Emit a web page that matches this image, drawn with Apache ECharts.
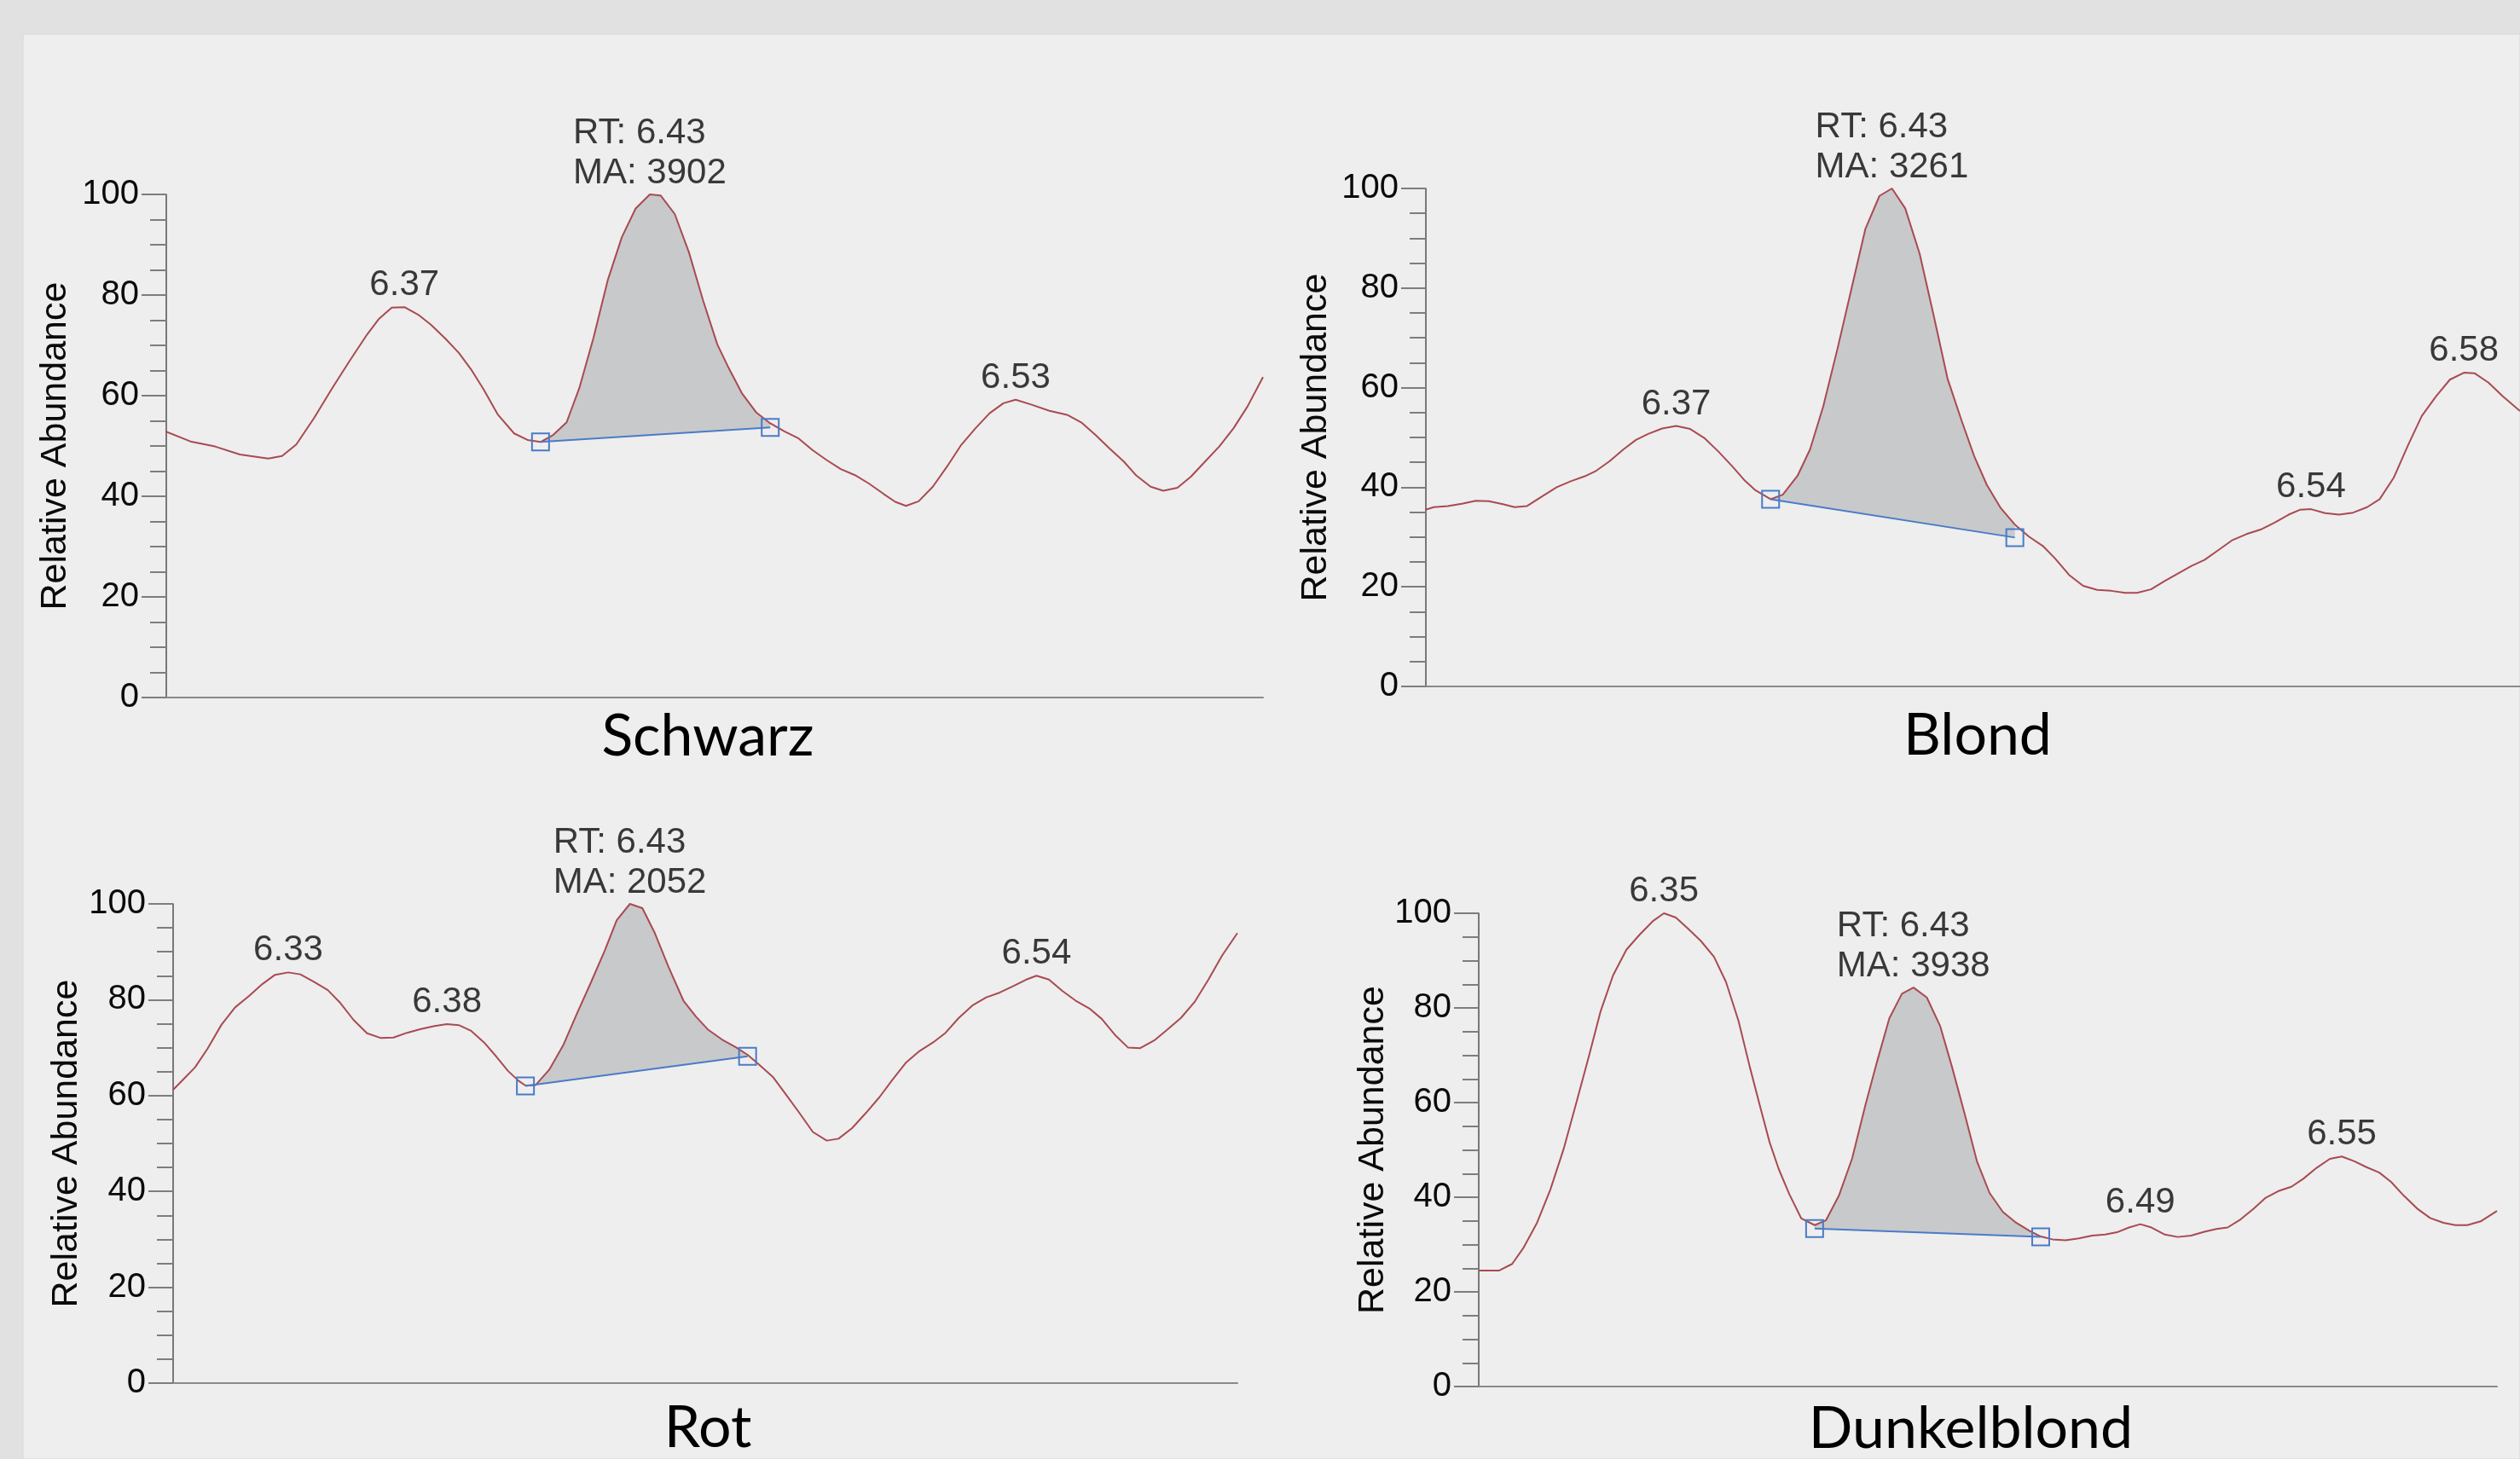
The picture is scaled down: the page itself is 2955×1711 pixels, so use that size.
<!DOCTYPE html>
<html>
<head>
<meta charset="utf-8">
<script src="https://cdn.jsdelivr.net/npm/echarts@6/dist/echarts.min.js"></script>
<style>
  html, body { margin: 0; padding: 0; background: #e1e1e1; }
  #chart { width: 2955px; height: 1711px; }
</style>
</head>
<body>
<div id="chart"></div>
<script>
// Extracted ion chromatograms of four hair samples (retention time in min, relative abundance in %)

// --- Schwarz ---
const schwarzTime = [6.3058, 6.3123, 6.3187, 6.3252, 6.3326, 6.3362, 6.3399, 6.3445, 6.3492, 6.3538,
  6.3584, 6.3615, 6.3648, 6.3681, 6.3717, 6.3750, 6.3787, 6.3823, 6.3855, 6.3888,
  6.3925, 6.3967, 6.4002, 6.4036, 6.4069, 6.4104, 6.4137, 6.4174, 6.4211, 6.4248,
  6.4284, 6.4321, 6.4349, 6.4386, 6.4423, 6.4460, 6.4497, 6.4524, 6.4561, 6.4598,
  6.4635, 6.4672, 6.4709, 6.4745, 6.4782, 6.4819, 6.4856, 6.4893, 6.4930, 6.4961,
  6.4989, 6.5022, 6.5059, 6.5096, 6.5133, 6.5170, 6.5207, 6.5243, 6.5275, 6.5317,
  6.5363, 6.5409, 6.5446, 6.5483, 6.5520, 6.5557, 6.5590, 6.5627, 6.5660, 6.5697,
  6.5732, 6.5769, 6.5806, 6.5843, 6.5880, 6.5920];
const schwarzAbund = [52.9, 50.9, 49.9, 48.3, 47.5, 48.0, 50.3, 55.5, 61.4, 66.9,
  72.2, 75.3, 77.5, 77.6, 76.1, 74.1, 71.4, 68.5, 65.2, 61.2,
  56.2, 52.5, 51.2, 50.8, 52.2, 54.7, 61.5, 71.5, 82.9, 91.5,
  97.2, 100, 99.8, 96.1, 88.5, 78.9, 70.2, 65.9, 60.5, 56.7,
  54.5, 52.9, 51.5, 49.2, 47.2, 45.4, 44.2, 42.5, 40.5, 38.9,
  38.1, 39.0, 41.9, 45.9, 50.2, 53.5, 56.5, 58.5, 59.2, 58.2,
  57.0, 56.2, 54.7, 52.2, 49.5, 46.9, 44.1, 41.9, 41.1, 41.7,
  43.9, 46.9, 49.9, 53.5, 57.9, 63.7];
const schwarzBase = [[6.4036, 50.8], [6.4635, 53.7]];
const schwarzPeaks = [6.3681, 6.5275];
const schwarzArea = 3902;
const schwarzRange = [6.306, 6.592];

// --- Blond ---
const blondTime = [6.3054, 6.3076, 6.3113, 6.3150, 6.3187, 6.3221, 6.3258, 6.3289, 6.3321, 6.3358,
  6.3400, 6.3437, 6.3474, 6.3502, 6.3539, 6.3576, 6.3609, 6.3641, 6.3678, 6.3715,
  6.3752, 6.3789, 6.3826, 6.3863, 6.3894, 6.3924, 6.3964, 6.3996, 6.4035, 6.4068,
  6.4103, 6.4140, 6.4177, 6.4214, 6.4251, 6.4284, 6.4319, 6.4357, 6.4394, 6.4431,
  6.4468, 6.4501, 6.4534, 6.4571, 6.4608, 6.4645, 6.4682, 6.4714, 6.4751, 6.4788,
  6.4825, 6.4862, 6.4899, 6.4930, 6.4967, 6.5004, 6.5041, 6.5074, 6.5108, 6.5145,
  6.5182, 6.5219, 6.5256, 6.5293, 6.5330, 6.5361, 6.5389, 6.5426, 6.5463, 6.5500,
  6.5537, 6.5570, 6.5607, 6.5644, 6.5681, 6.5718, 6.5755, 6.5792, 6.5820, 6.5857,
  6.5894, 6.5940];
const blondAbund = [35.5, 36.0, 36.2, 36.7, 37.3, 37.2, 36.6, 36.0, 36.2, 38.0,
  40.0, 41.2, 42.2, 43.2, 45.2, 47.6, 49.5, 50.7, 51.8, 52.3,
  51.7, 49.9, 47.2, 44.2, 41.5, 39.4, 37.6, 38.5, 42.3, 47.6,
  56.3, 67.7, 79.8, 91.9, 98.5, 100, 96.0, 86.9, 74.5, 61.7,
  53.3, 46.2, 40.5, 35.8, 32.5, 30.1, 28.2, 25.7, 22.4, 20.2,
  19.4, 19.2, 18.8, 18.8, 19.5, 21.2, 22.8, 24.2, 25.4, 27.4,
  29.4, 30.6, 31.5, 32.9, 34.5, 35.5, 35.6, 34.8, 34.5, 34.9,
  36.0, 37.6, 41.9, 48.3, 54.3, 58.2, 61.6, 63.0, 62.9, 61.0,
  58.3, 55.3];
const blondBase = [[6.3964, 37.6], [6.4608, 29.9]];
const blondPeaks = [6.3715, 6.5389, 6.5792];
const blondArea = 3261;
const blondRange = [6.3055, 6.5940];

// --- Rot ---
const rotTime = [6.3020, 6.3048, 6.3080, 6.3114, 6.3152, 6.3189, 6.3227, 6.3264, 6.3298, 6.3334,
  6.3367, 6.3405, 6.3442, 6.3474, 6.3512, 6.3549, 6.3587, 6.3621, 6.3658, 6.3696,
  6.3733, 6.3767, 6.3799, 6.3833, 6.3868, 6.3902, 6.3934, 6.3962, 6.3981, 6.4009,
  6.4046, 6.4084, 6.4122, 6.4159, 6.4197, 6.4230, 6.4266, 6.4300, 6.4334, 6.4371,
  6.4412, 6.4446, 6.4480, 6.4517, 6.4555, 6.4587, 6.4619, 6.4656, 6.4690, 6.4728,
  6.4765, 6.4803, 6.4835, 6.4872, 6.4910, 6.4947, 6.4981, 6.5018, 6.5056, 6.5093,
  6.5127, 6.5163, 6.5200, 6.5238, 6.5275, 6.5313, 6.5347, 6.5375, 6.5409, 6.5446,
  6.5482, 6.5519, 6.5553, 6.5591, 6.5625, 6.5658, 6.5696, 6.5731, 6.5769, 6.5806,
  6.5844, 6.5881, 6.5923];
const rotAbund = [61.2, 63.4, 65.9, 69.8, 74.8, 78.4, 80.8, 83.3, 85.2, 85.7,
  85.3, 83.7, 82.0, 79.5, 75.8, 73.0, 72.0, 72.1, 73.1, 73.9,
  74.5, 74.9, 74.7, 73.5, 71.1, 68.1, 65.1, 63.1, 62.1, 62.2,
  65.4, 70.5, 77.2, 83.5, 90.2, 96.6, 100, 99.1, 93.9, 86.9,
  79.8, 76.5, 73.7, 71.7, 70.1, 68.5, 66.4, 63.9, 60.4, 56.4,
  52.4, 50.6, 51.0, 53.2, 56.4, 59.7, 63.2, 66.8, 69.3, 71.1,
  73.1, 76.2, 78.8, 80.5, 81.5, 82.9, 84.2, 85.0, 84.2, 81.8,
  79.8, 78.2, 76.0, 72.5, 70.0, 69.9, 71.5, 73.7, 76.2, 79.5,
  84.2, 89.2, 93.9];
const rotBase = [[6.3981, 62.0], [6.4587, 68.2]];
const rotPeaks = [6.3334, 6.3767, 6.5375];
const rotArea = 2052;
const rotRange = [6.302, 6.5923];

// --- Dunkelblond ---
const dunkelTime = [6.2993, 6.3051, 6.3090, 6.3124, 6.3163, 6.3202, 6.3241, 6.3279, 6.3314, 6.3349,
  6.3386, 6.3425, 6.3464, 6.3502, 6.3535, 6.3570, 6.3605, 6.3644, 6.3682, 6.3717,
  6.3754, 6.3787, 6.3818, 6.3845, 6.3872, 6.3903, 6.3938, 6.3977, 6.4010, 6.4048,
  6.4087, 6.4126, 6.4161, 6.4196, 6.4233, 6.4267, 6.4306, 6.4345, 6.4380, 6.4417,
  6.4453, 6.4490, 6.4529, 6.4568, 6.4607, 6.4640, 6.4674, 6.4713, 6.4752, 6.4791,
  6.4829, 6.4864, 6.4899, 6.4932, 6.4965, 6.5004, 6.5042, 6.5081, 6.5120, 6.5155,
  6.5188, 6.5226, 6.5265, 6.5300, 6.5337, 6.5375, 6.5410, 6.5449, 6.5488, 6.5523,
  6.5560, 6.5594, 6.5633, 6.5668, 6.5705, 6.5744, 6.5782, 6.5821, 6.5856, 6.5891,
  6.5930, 6.5978];
const dunkelAbund = [24.5, 24.5, 25.9, 29.4, 34.6, 41.6, 50.2, 60.2, 69.5, 79.2,
  86.9, 92.3, 95.5, 98.3, 100, 99.1, 96.8, 94.1, 90.8, 85.5,
  77.2, 67.5, 58.9, 51.6, 45.9, 40.6, 35.5, 34.1, 35.1, 40.3,
  48.2, 59.5, 68.9, 77.8, 83.0, 84.3, 82.2, 76.2, 67.5, 57.6,
  47.6, 40.9, 36.9, 34.6, 32.9, 31.7, 31.1, 30.9, 31.3, 31.9,
  32.1, 32.6, 33.6, 34.3, 33.6, 32.1, 31.6, 31.9, 32.7, 33.3,
  33.6, 35.3, 37.6, 39.9, 41.3, 42.2, 43.9, 46.2, 48.1, 48.6,
  47.6, 46.4, 45.2, 43.2, 40.3, 37.6, 35.6, 34.6, 34.1, 34.1,
  34.9, 37.1];
const dunkelBase = [[6.3977, 33.4], [6.4640, 31.6]];
const dunkelPeaks = [6.3535, 6.4932, 6.5523];
const dunkelArea = 3938;
const dunkelRange = [6.2992, 6.5978];

const yTicks = [0, 20, 40, 60, 80, 100];

const sampleNames = ['Schwarz', 'Blond', 'Rot', 'Dunkelblond'];

const NUM_FONT = '"Liberation Sans", Arial, Helvetica, sans-serif';
const TEXT = '#0a0a0a';
const TRACE = '#a94a52';
const BASE = '#4a7bc8';
const FILL = '#c8c9cb';

const panels = [
  { time: schwarzTime, abund: schwarzAbund, base: schwarzBase, peaks: schwarzPeaks, area: schwarzArea, range: schwarzRange,
    grid: { left: 195, top: 228, width: 1286, height: 590 }, nameGap: 108, title: { x: 830, top: 830 } },
  { time: blondTime, abund: blondAbund, base: blondBase, peaks: blondPeaks, area: blondArea, range: blondRange,
    grid: { left: 1672, top: 221, width: 1283, height: 584 }, nameGap: 107, title: { x: 2319, top: 829 } },
  { time: rotTime, abund: rotAbund, base: rotBase, peaks: rotPeaks, area: rotArea, range: rotRange,
    grid: { left: 203, top: 1060, width: 1248, height: 562 }, nameGap: 103, title: { x: 830, top: 1641 } },
  { time: dunkelTime, abund: dunkelAbund, base: dunkelBase, peaks: dunkelPeaks, area: dunkelArea, range: dunkelRange,
    grid: { left: 1734, top: 1071, width: 1194, height: 555 }, nameGap: 102, title: { x: 2311, top: 1642 } }
];

const grids = [], xAxes = [], yAxes = [], series = [], titles = [];

panels.forEach((p, idx) => {
  grids.push(Object.assign({ containLabel: false }, p.grid));

  xAxes.push({
    type: 'value', gridIndex: idx, min: p.range[0], max: p.range[1],
    axisLine: { show: true, onZero: false, lineStyle: { color: '#8a8a8a', width: 2 } },
    axisTick: { show: false }, axisLabel: { show: false }, splitLine: { show: false }
  });

  yAxes.push({
    type: 'value', gridIndex: idx, min: yTicks[0], max: yTicks[yTicks.length - 1],
    interval: yTicks[1] - yTicks[0],
    name: 'Relative Abundance', nameLocation: 'middle', nameGap: p.nameGap, nameRotate: 90,
    nameTextStyle: { fontFamily: NUM_FONT, fontSize: 43, color: TEXT },
    axisLine: { show: true, onZero: false, lineStyle: { color: '#505050', width: 1.5 } },
    axisTick: { show: true, length: 29, lineStyle: { color: '#7d7d7d', width: 2 } },
    minorTick: { show: true, splitNumber: 4, length: 19, lineStyle: { color: '#7d7d7d', width: 2 } },
    axisLabel: { fontFamily: NUM_FONT, fontSize: 40, color: TEXT, margin: 32 },
    splitLine: { show: false }
  });

  titles.push({
    text: sampleNames[idx], left: p.title.x, top: p.title.top, textAlign: 'center', padding: 0,
    textStyle: { fontFamily: 'Lato, "Open Sans", sans-serif', fontSize: 68, fontWeight: 'normal', color: '#000' }
  });

  const curve = p.time.map((t, i) => [t, p.abund[i]]);
  const i0 = p.time.indexOf(p.base[0][0]);
  const i1 = p.time.indexOf(p.base[1][0]);
  let iMax = i0;
  for (let k = i0; k <= i1; k++) if (p.abund[k] > p.abund[iMax]) iMax = k;
  const peakPts = p.peaks.map(t => [t, p.abund[p.time.indexOf(t)]]);

  // integrated peak area: trace between the two baseline points, closed by the baseline
  series.push({
    type: 'custom', xAxisIndex: idx, yAxisIndex: idx, z: 1, silent: true,
    data: [[p.time[i0], p.base[0][1]]],
    renderItem: function (params, api) {
      const pts = [];
      for (let k = i0; k <= i1; k++) pts.push(api.coord([p.time[k], p.abund[k]]));
      pts.push(api.coord([p.time[i1], p.base[1][1]]));
      pts.push(api.coord([p.time[i0], p.base[0][1]]));
      return { type: 'polygon', shape: { points: pts }, style: { fill: FILL } };
    }
  });

  series.push({
    type: 'line', xAxisIndex: idx, yAxisIndex: idx, z: 3, silent: true,
    data: curve, showSymbol: false, symbol: 'none',
    lineStyle: { color: TRACE, width: 2 }
  });

  series.push({
    type: 'line', xAxisIndex: idx, yAxisIndex: idx, z: 4, silent: true,
    data: p.base, symbol: 'rect', symbolSize: 20, showSymbol: true,
    lineStyle: { color: BASE, width: 2 },
    itemStyle: { color: 'rgba(0,0,0,0)', borderColor: BASE, borderWidth: 2 }
  });

  series.push({
    type: 'scatter', xAxisIndex: idx, yAxisIndex: idx, z: 5, silent: true,
    data: peakPts, symbolSize: 1, itemStyle: { color: 'rgba(0,0,0,0)' },
    label: {
      show: true, position: 'top', distance: 4,
      formatter: prm => prm.value[0].toFixed(2),
      fontFamily: NUM_FONT, fontSize: 42, color: TEXT
    }
  });

  series.push({
    type: 'scatter', xAxisIndex: idx, yAxisIndex: idx, z: 5, silent: true,
    data: [[p.time[iMax], p.abund[iMax]]], symbolSize: 1, itemStyle: { color: 'rgba(0,0,0,0)' },
    label: {
      show: true, position: 'top', distance: 1, align: 'left', offset: [-90, 0],
      lineHeight: 47,
      formatter: prm => 'RT: ' + prm.value[0].toFixed(2) + '\nMA: ' + p.area,
      fontFamily: NUM_FONT, fontSize: 42, color: TEXT
    }
  });
});

const chart = echarts.init(document.getElementById('chart'), null, { renderer: 'canvas' });
chart.setOption({
  animation: false,
  backgroundColor: '#e1e1e1',
  textStyle: { fontFamily: NUM_FONT },
  graphic: [{
    type: 'rect', z: -100, silent: true,
    shape: { x: 27, y: 40, width: 2928, height: 1671 },
    style: { fill: '#eeeeee', stroke: '#d6d6d6', lineWidth: 1 }
  }],
  title: titles,
  grid: grids,
  xAxis: xAxes,
  yAxis: yAxes,
  series: series
});
</script>
</body>
</html>
